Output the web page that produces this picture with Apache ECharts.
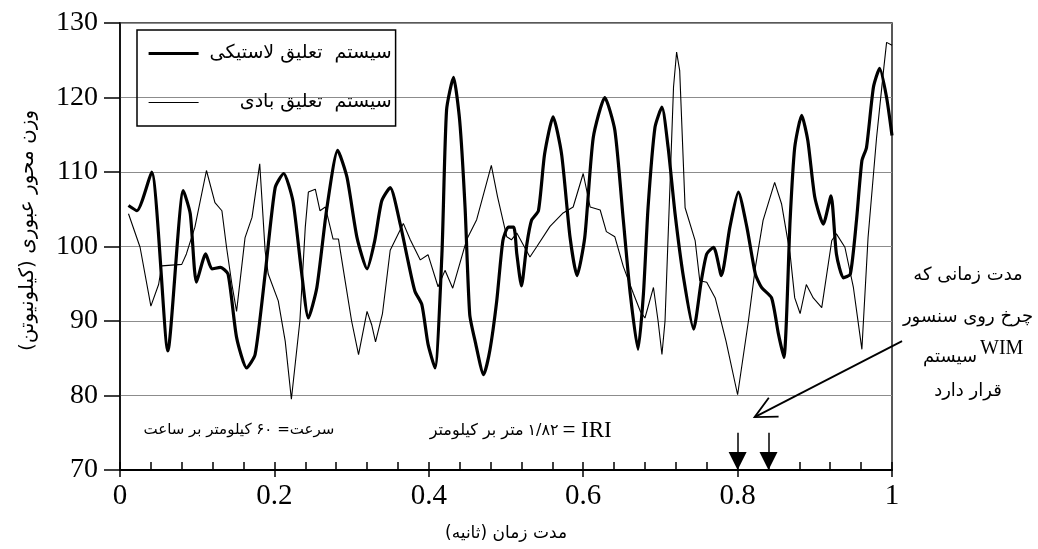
<!DOCTYPE html>
<html>
<head>
<meta charset="utf-8">
<script src="https://cdn.jsdelivr.net/npm/echarts@6/dist/echarts.min.js"></script>
<style>
html,body{margin:0;padding:0;background:#fff;}
#chart{width:1038px;height:549px;}
</style>
</head>
<body>
<div id="chart"></div>
<script>
// ---- data ----
const seriesNames = ['سیستم  تعلیق لاستیکی', 'سیستم  تعلیق بادی'];

const rubberX = [0.011,0.022,0.041,0.062,0.082,0.091,0.099,0.111,0.119,0.130,0.140,0.151,0.164,0.175,0.188,0.201,0.212,0.224,0.235,0.244,0.255,0.268,0.282,0.294,0.307,0.320,0.330,0.339,0.350,0.363,0.373,0.382,0.391,0.399,0.408,0.417,0.423,0.432,0.440,0.447,0.453,0.460,0.471,0.479,0.488,0.496,0.503,0.510,0.514,0.520,0.527,0.533,0.542,0.550,0.561,0.572,0.583,0.592,0.602,0.613,0.628,0.641,0.652,0.661,0.671,0.678,0.684,0.693,0.702,0.710,0.719,0.730,0.743,0.753,0.760,0.769,0.779,0.790,0.801,0.812,0.823,0.831,0.844,0.853,0.860,0.868,0.874,0.883,0.891,0.900,0.911,0.921,0.928,0.937,0.946,0.954,0.961,0.967,0.976,0.984,0.993,1.000];
const rubberY = [105.5,104.8,110,86,107.5,104.4,95.2,99,97,97.2,96.3,87.8,83.7,85.5,96.3,107.9,109.8,106.1,96.7,90.4,94.5,105.2,112.9,109.3,101.2,97,100.8,106.1,107.9,103,98.1,94,92.2,86.9,83.7,99,118.3,122.7,116.9,105.2,90.9,87.3,82.8,86,92.7,100.8,102.6,102.6,99,94.7,100.3,103.5,104.8,112.4,117.4,112.4,101.2,96.1,101.2,114.6,120,115.6,103.5,93.6,86.2,93.6,105.2,116,118.7,113.3,104.4,95.8,88.9,95.4,99,99.9,96.1,102.6,107.3,102.6,96.3,94.5,93.1,88.2,85.1,103.5,113.3,117.6,114.2,106.6,103,106.8,99,95.8,96.3,103.5,111.5,113.3,121.4,123.9,120,114.9];

const airX = [0.011,0.026,0.040,0.050,0.054,0.080,0.086,0.097,0.112,0.123,0.132,0.138,0.145,0.151,0.162,0.171,0.181,0.188,0.192,0.205,0.214,0.222,0.233,0.240,0.244,0.253,0.259,0.266,0.276,0.283,0.291,0.300,0.309,0.320,0.326,0.331,0.340,0.350,0.367,0.376,0.389,0.399,0.412,0.421,0.431,0.449,0.462,0.481,0.489,0.501,0.507,0.514,0.531,0.540,0.557,0.574,0.587,0.600,0.609,0.622,0.630,0.641,0.652,0.665,0.674,0.680,0.691,0.697,0.702,0.706,0.712,0.717,0.721,0.725,0.732,0.745,0.751,0.760,0.771,0.785,0.800,0.814,0.823,0.833,0.848,0.857,0.868,0.874,0.881,0.889,0.898,0.909,0.922,0.928,0.939,0.950,0.961,0.969,0.980,0.989,0.993,1.000];
const airY = [104.4,99.9,92,94.9,97.4,97.6,99,102.6,110.2,105.9,104.8,99.9,94.9,91.3,101.2,103.9,111.1,99.4,96.3,92.7,87.3,79.5,90,102.6,107.3,107.7,104.8,105.3,101,101,95.8,90,85.5,91.3,89.5,87.2,91,99.5,103.1,100.9,98.2,98.9,94.6,96.8,94.4,100.9,103.6,110.9,106.7,101.3,100.9,101.8,98.6,100,102.7,104.5,105.3,109.8,105.3,104.9,102,101.3,97.3,93.7,91.3,90.4,94.5,90,85.5,90,107,121.4,126.1,123.6,105.2,100.8,95.4,95.2,93.1,87.3,80.1,90,97.2,103.5,108.6,105.7,99,93.1,91,94.9,93.1,91.8,100.8,101.7,99.9,94.5,86.2,101.2,114.6,123.6,127.4,127];

// WIM sensor window markers (x positions, seconds)
const sensorMarks = [0.8, 0.84];

const xMin = 0, xMax = 1, xStep = 0.2;
const yMin = 70, yMax = 130, yStep = 10;

const texts = {
  yName: '\u200Fوزن محور عبوری (کیلونیوتن)\u200F',
  xName: '\u200Fمدت زمان (ثانیه)\u200F',
  speed: 'سرعت= ۶۰ کیلومتر بر ساعت',
  iriFa: 'متر بر کیلومتر',
  iriNum: '۱/۸۲',
  iriEn: '= IRI',
  note: ['مدت زمانی که', 'چرخ روی سنسور', 'سیستم', 'WIM', 'قرار دارد']
};

const zip = (xs, ys) => xs.map((x, i) => [x, ys[i]]);

const FA = "'DejaVu Sans', sans-serif";
const EN = "'Liberation Serif', 'Times New Roman', serif";

const chart = echarts.init(document.getElementById('chart'), null, {renderer: 'canvas'});

const option = {
  backgroundColor: '#fff',
  animation: false,
  grid: {left: 120, right: 146, top: 23, bottom: 79, show: true, borderColor: '#222', borderWidth: 1.5, backgroundColor: 'transparent'},
  legend: {
    left: 137, top: 30, orient: 'vertical',
    itemWidth: 50, itemHeight: 20, itemGap: 30,
    padding: [14, 4, 14, 10],
    borderColor: '#000', borderWidth: 1.5, borderRadius: 0,
    backgroundColor: 'transparent',
    selectedMode: false,
    itemStyle: {color: 'rgba(0,0,0,0)', borderColor: 'rgba(0,0,0,0)', borderWidth: 0},
    formatter: n => '{t|' + n + '}',
    textStyle: {rich: {t: {width: 188, align: 'right', fontFamily: FA, fontSize: 19, color: '#000'}}},
    data: [
      {name: seriesNames[0], lineStyle: {color: '#000', width: 3.2}},
      {name: seriesNames[1], lineStyle: {color: '#000', width: 1.1}}
    ]
  },
  xAxis: [{
    type: 'value', min: xMin, max: xMax, interval: xStep, position: 'bottom',
    name: texts.xName, nameLocation: 'middle', nameGap: 55,
    nameTextStyle: {fontFamily: FA, fontSize: 17, color: '#000'},
    axisLine: {show: true, lineStyle: {color: '#000', width: 2}},
    axisTick: {show: true, inside: true, length: 8, lineStyle: {color: '#000', width: 1.5}},
    minorTick: {show: true, splitNumber: 5, length: 8, lineStyle: {color: '#000', width: 1.5}},
    axisLabel: {fontFamily: EN, fontSize: 29, color: '#000', margin: 12,
      formatter: v => (v === 0 || v === 1) ? String(v) : v.toFixed(1)},
    splitLine: {show: false}
  }, {
    type: 'value', min: xMin, max: xMax, interval: xStep, position: 'bottom',
    axisLine: {show: false}, axisLabel: {show: false}, splitLine: {show: false},
    axisTick: {show: true, inside: false, length: 7, lineStyle: {color: '#000', width: 1.5}}
  }],
  yAxis: [{
    type: 'value', min: yMin, max: yMax, interval: yStep,
    name: texts.yName, nameLocation: 'middle', nameGap: 82,
    nameTextStyle: {fontFamily: FA, fontSize: 20, color: '#000', padding: [0, 0, 0, 32]},
    axisLine: {show: true, lineStyle: {color: '#000', width: 1.5}},
    axisTick: {show: true, inside: false, length: 16, lineStyle: {color: '#000', width: 1.5}},
    axisLabel: {fontFamily: EN, fontSize: 28, color: '#000', margin: 22},
    splitLine: {show: true, lineStyle: {color: '#8c8c8c', width: 1.2}}
  }],
  series: [{
    name: seriesNames[0], type: 'line', data: zip(rubberX, rubberY),
    symbol: 'none', smooth: 0.2, z: 3,
    lineStyle: {color: '#000', width: 3.2}, itemStyle: {color: '#000'}
  }, {
    name: seriesNames[1], type: 'line', data: zip(airX, airY),
    symbol: 'none', smooth: false, z: 2,
    lineStyle: {color: '#000', width: 1.1}, itemStyle: {color: '#000'},
    markLine: {
      silent: true, symbol: ['none', 'triangle'], symbolSize: 18,
      lineStyle: {color: '#000', width: 1.5, type: 'solid'},
      label: {show: false},
      data: sensorMarks.map(x => [{coord: [x, 75]}, {coord: [x, 71.2]}])
    }
  }]
};
chart.setOption(option);

// annotations
const tip = chart.convertToPixel({gridIndex: 0}, [0.822, 77.1]);
const tail = chart.convertToPixel({gridIndex: 0}, [1.013, 87.3]);
const ang = Math.atan2(tail[1] - tip[1], tail[0] - tip[0]);
const hl = 24, ha = 0.46;
const b1 = [tip[0] + hl * Math.cos(ang + ha), tip[1] + hl * Math.sin(ang + ha)];
const b2 = [tip[0] + hl * Math.cos(ang - ha), tip[1] + hl * Math.sin(ang - ha)];
const speedPos = chart.convertToPixel({gridIndex: 0}, [0.154, 75.3]);
const iriPos = chart.convertToPixel({gridIndex: 0}, [0.637, 75.3]);

const noteFont = "18px " + FA;
const noteX = 968;
chart.setOption({
  graphic: [
    {type: 'line', shape: {x1: tail[0], y1: tail[1], x2: tip[0], y2: tip[1]}, style: {stroke: '#000', lineWidth: 1.8}},
    {type: 'polyline', shape: {points: [b1, tip, b2]}, style: {stroke: '#000', lineWidth: 1.8, fill: null}},
    {type: 'text', x: speedPos[0], y: speedPos[1], style: {text: texts.speed, font: "15px " + FA, fill: '#000', align: 'center', verticalAlign: 'middle'}},
    {type: 'text', x: iriPos[0], y: iriPos[1], style: {
      text: '{fa|' + texts.iriFa + '}{sp| }{num|' + texts.iriNum + '}{sp| }{en|' + texts.iriEn + '}',
      align: 'right', verticalAlign: 'middle',
      rich: {
        fa: {font: "16px " + FA, fill: '#000'},
        num: {font: "16px " + FA, fill: '#000'},
        sp: {font: "12px " + FA},
        en: {font: "23px " + EN, fill: '#000'}
      }}},
    {type: 'text', x: noteX, y: 275, style: {text: texts.note[0], font: noteFont, fill: '#000', align: 'center', verticalAlign: 'middle'}},
    {type: 'text', x: noteX, y: 317, style: {text: texts.note[1], font: noteFont, fill: '#000', align: 'center', verticalAlign: 'middle'}},
    {type: 'text', x: noteX + 9, y: 357, style: {text: texts.note[2], font: noteFont, fill: '#000', align: 'right', verticalAlign: 'middle'}},
    {type: 'text', x: noteX + 12, y: 349, style: {text: texts.note[3], font: "20px " + EN, fill: '#000', align: 'left', verticalAlign: 'middle'}},
    {type: 'text', x: noteX, y: 391, style: {text: texts.note[4], font: noteFont, fill: '#000', align: 'center', verticalAlign: 'middle'}}
  ]
});
</script>
</body>
</html>
